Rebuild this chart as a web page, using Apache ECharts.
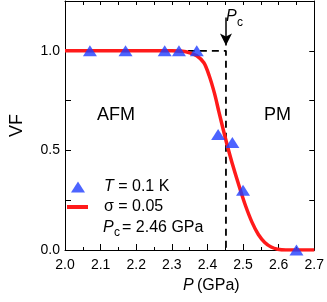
<!DOCTYPE html>
<html>
<head>
<meta charset="utf-8">
<script src="https://cdn.jsdelivr.net/npm/echarts@6/dist/echarts.min.js"></script>
<style>html,body{margin:0;padding:0;background:#fff}#c{width:327px;height:302px}</style>
</head>
<body>
<div id="c"></div>
<script>
// measured points (T = 0.1 K)
var pressure = [2.07, 2.17, 2.28, 2.32, 2.37, 2.43, 2.47, 2.50, 2.65];
var volumeFraction = [1.0, 1.0, 1.0, 1.0, 1.0, 0.58, 0.54, 0.30, 0.0];
// fitted curve (sigma = 0.05, Pc = 2.46 GPa)
var curveP  = [2.00, 2.30, 2.33, 2.35, 2.37, 2.39, 2.405, 2.42, 2.432, 2.445, 2.455, 2.472, 2.49, 2.507, 2.525, 2.543, 2.561, 2.579, 2.597, 2.62, 2.70];
var curveVF = [1.0, 1.0, 0.998, 0.99, 0.975, 0.94, 0.875, 0.785, 0.695, 0.60, 0.53, 0.42, 0.315, 0.222, 0.14, 0.078, 0.038, 0.015, 0.004, 0.0, 0.0];
// guide lines
var guideP = [2.345, 2.452, 2.452];
var guideVF = [1.0, 1.0, 0.0];
var arrowP = 2.452, arrowFromVF = 1.167, arrowToVF = 1.027;
// axis ticks
var xTickLabels = ['2.0','2.1','2.2','2.3','2.4','2.5','2.6','2.7'];
var yTickLabels = ['0.0','0.5','1.0'];

var font = 'Liberation Sans, Arial, sans-serif';
var chart = echarts.init(document.getElementById('c'), null, {renderer: 'canvas'});
function pairs(a, b) { return a.map(function (v, i) { return [v, b[i]]; }); }

var xMin = parseFloat(xTickLabels[0]), xMax = parseFloat(xTickLabels[xTickLabels.length - 1]);

chart.setOption({
  animation: false,
  backgroundColor: '#fff',
  grid: {left: 54, right: 12, top: 1, bottom: 52, containLabel: false},
  xAxis: [{
    type: 'value', position: 'bottom', min: xMin, max: xMax, interval: 0.1,
    axisLine: {show: true, onZero: false, lineStyle: {color: '#000', width: 1}},
    axisTick: {show: true, inside: true, length: 6, lineStyle: {color: '#000'}},
    minorTick: {show: true, splitNumber: 2, length: 3, lineStyle: {color: '#000'}},
    splitLine: {show: false},
    axisLabel: {margin: 8, color: '#000', fontFamily: font, fontSize: 14,
      formatter: function (v) { var s = v.toFixed(1); return xTickLabels.indexOf(s) >= 0 ? s : ''; }}
  }, {
    type: 'value', position: 'top', min: xMin, max: xMax, interval: 0.05,
    axisLine: {show: true, onZero: false, lineStyle: {color: '#000', width: 1}},
    axisTick: {show: true, inside: true, length: 4, lineStyle: {color: '#000'}},
    axisLabel: {show: false}, splitLine: {show: false}
  }],
  yAxis: [{
    type: 'value', position: 'left', min: 0, max: 1.25, interval: 0.25,
    name: 'VF', nameLocation: 'middle', nameGap: 39, nameRotate: 90,
    nameTextStyle: {color: '#000', fontFamily: font, fontSize: 18},
    axisLine: {show: true, onZero: false, lineStyle: {color: '#000', width: 1}},
    axisTick: {show: true, inside: true, length: 6, lineStyle: {color: '#000'}},
    splitLine: {show: false},
    axisLabel: {margin: 5, color: '#000', fontFamily: font, fontSize: 14,
      formatter: function (v) { var s = v.toFixed(1); return (yTickLabels.indexOf(s) >= 0 && Math.abs(v*2 - Math.round(v*2)) < 1e-6) ? s : ''; }}
  }, {
    type: 'value', position: 'right', min: 0, max: 1.25, interval: 0.25,
    axisLine: {show: true, onZero: false, lineStyle: {color: '#000', width: 1}},
    axisTick: {show: true, inside: true, length: 5, lineStyle: {color: '#000'}},
    axisLabel: {show: false}, splitLine: {show: false}
  }],
  legend: [{
    data: [{name: 'T', icon: 'triangle'}],
    left: 71, top: 178, padding: 0, itemWidth: 14, itemHeight: 11,
    formatter: function () { return '{i|T} = 0.1 K'; },
    textStyle: {color: '#000', fontFamily: font, fontSize: 16, lineHeight: 18, padding: [0, 0, 0, 14],
      rich: {i: {fontStyle: 'italic', fontFamily: font, fontSize: 16, color: '#000'}}}
  }, {
    data: [{name: 'sigma', icon: 'rect'}],
    left: 67, top: 198, padding: 0, itemWidth: 21, itemHeight: 4,
    formatter: function () { return 'σ = 0.05'; },
    textStyle: {color: '#000', fontFamily: font, fontSize: 16, lineHeight: 18, padding: [0, 0, 0, 11]}
  }],
  series: [{
    name: 'sigma', type: 'line', data: pairs(curveP, curveVF),
    xAxisIndex: 0, yAxisIndex: 0,
    smooth: 0.3, symbol: 'none', showSymbol: false,
    lineStyle: {color: '#ff1a1a', width: 3.5}, itemStyle: {color: '#ff1a1a'}, z: 3
  }, {
    name: 'guide', type: 'line', data: pairs(guideP, guideVF),
    xAxisIndex: 0, yAxisIndex: 0, symbol: 'none',
    lineStyle: {color: '#000', width: 1.8, type: [7, 5]}, z: 2,
    markLine: {
      silent: true, symbol: ['none', 'arrow'], symbolSize: [9, 12],
      lineStyle: {color: '#000', width: 1.5, type: 'solid'}, label: {show: false},
      data: [[{coord: [arrowP, arrowFromVF]}, {coord: [arrowP, arrowToVF]}]]
    }
  }, {
    name: 'T', type: 'scatter', data: pairs(pressure, volumeFraction),
    xAxisIndex: 0, yAxisIndex: 0,
    symbol: 'triangle', symbolSize: [14, 11],
    itemStyle: {color: '#1f3dff'}, z: 4
  }],
  graphic: [
    {type: 'text', left: 97, top: 106, style: {text: 'AFM', font: '18px ' + font, fill: '#000'}},
    {type: 'text', left: 264, top: 106, style: {text: 'PM', font: '18px ' + font, fill: '#000'}},
    // Pc label near arrow
    {type: 'text', left: 226, top: 9, style: {text: 'P', font: 'italic 16px ' + font, fill: '#000'}},
    {type: 'text', left: 237, top: 17, style: {text: 'c', font: '12px ' + font, fill: '#000'}},
    // third legend line
    {type: 'text', left: 103, top: 220, style: {text: 'P', font: 'italic 16px ' + font, fill: '#000'}},
    {type: 'text', left: 114, top: 227, style: {text: 'c', font: '12px ' + font, fill: '#000'}},
    {type: 'text', left: 122, top: 220, style: {text: '= 2.46 GPa', font: '16px ' + font, fill: '#000'}},
    // x axis title
    {type: 'text', left: 183, top: 278, style: {text: 'P', font: 'italic 16px ' + font, fill: '#000'}},
    {type: 'text', left: 197, top: 278, style: {text: '(GPa)', font: '16px ' + font, fill: '#000'}}
  ]
});
</script>
</body>
</html>
